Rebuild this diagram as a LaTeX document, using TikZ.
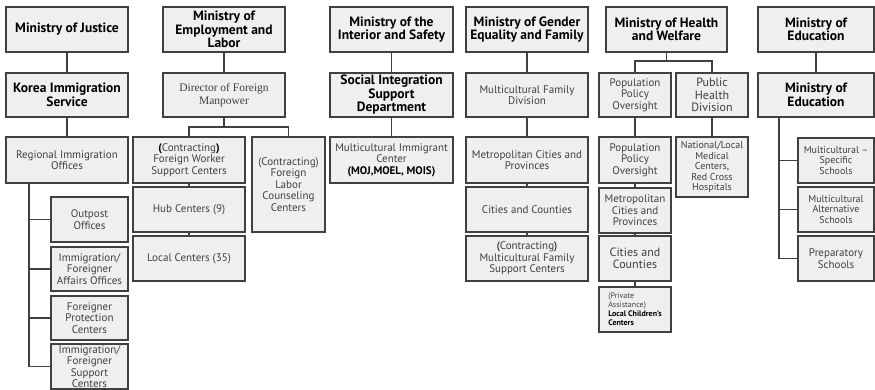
\documentclass[tikz,border=0pt]{standalone}
\usepackage{fontspec}
\setmainfont{PT Sans}
\newfontfamily\serifdir{Liberation Serif}
\definecolor{boxfill}{HTML}{EFEFEF}
\definecolor{boxline}{HTML}{404040}
\definecolor{bodytext}{HTML}{404040}
\tikzset{
  box/.style={draw=boxline, fill=boxfill, line width=1.3pt, align=center, inner sep=1pt,
    text=bodytext, font=\fontsize{11}{11.5}\selectfont},
  ttl/.style={text=black, font=\fontsize{13.5}{13.5}\selectfont\bfseries},
  fserif/.style={font=\serifdir\fontsize{11.5}{13.5}\selectfont},
  fbig/.style={font=\fontsize{12}{12.5}\selectfont},
  fsmall/.style={font=\fontsize{10}{10.5}\selectfont},
  ftiny/.style={font=\fontsize{8}{9}\selectfont, align=left, text=black},
  conn/.style={draw=boxline, line width=1.3pt},
}
\newcommand{\bx}[7][]{\node[box,#1,minimum width={#4-#2},minimum height={#5-#3}] (#7) at ({(#2+#4)/2},{(#3+#5)/2}) {#6};}
\begin{document}
\begin{tikzpicture}[x=1pt,y=-1pt]
\useasboundingbox (0,0) rectangle (875,390);
% column 1
\bx[ttl]{6}{7}{128}{52}{Ministry of Justice}{moj}
\bx[ttl]{6}{73}{128}{117}{Korea Immigration\\Service}{kis}
\bx{6}{137}{128}{183}{Regional Immigration\\Offices}{rio}
\bx{51}{197}{128}{242}{Outpost\\Offices}{oo}
\bx{51}{247}{128}{291}{Immigration/\\Foreigner\\Affairs Offices}{ifa}
\bx{51}{296}{128}{340}{Foreigner\\Protection\\Centers}{fpc}
\bx{51}{344}{128}{389}{Immigration/\\Foreigner\\Support\\Centers}{ifs}
% column 2
\bx[ttl]{163}{7}{285}{52}{Ministry of\\Employment and\\Labor}{moel}
\bx[fserif]{163}{73}{285}{117}{Director of Foreign\\Manpower}{dfm}
\bx{133}{137}{245}{183}{{\color{black}\bfseries(}Contracting{\color{black}\bfseries)}\\Foreign Worker\\Support Centers}{fwsc}
\bx{252}{137}{325}{232}{(Contracting)\\Foreign\\Labor\\Counseling\\Centers}{flcc}
\bx{133}{187}{245}{232}{Hub Centers (9)}{hub}
\bx{133}{236}{245}{281}{Local Centers (35)}{loc}
% column 3
\bx[ttl]{330}{7}{453}{52}{Ministry of the\\Interior and Safety}{mois}
\bx[ttl]{330}{73}{453}{117}{Social Integration\\Support\\Department}{sisd}
\bx{330}{137}{453}{183}{Multicultural Immigrant\\Center\\{\color{black}\bfseries(MOJ,MOEL, MOIS)}}{mic}
% column 4
\bx[ttl]{466}{7}{588}{52}{Ministry of Gender\\Equality and Family}{mogef}
\bx{466}{73}{588}{117}{Multicultural Family\\Division}{mfd}
\bx{466}{137}{588}{183}{Metropolitan Cities and\\Provinces}{mcp4}
\bx{466}{187}{588}{232}{Cities and Counties}{cc4}
\bx{466}{236}{588}{281}{{\color{black}(}Contracting{\color{black})}\\Multicultural Family\\Support Centers}{mfsc}
% column 5
\bx[ttl]{606}{7}{727}{52}{Ministry of Health\\and Welfare}{mohw}
\bx{599}{73}{671}{117}{Population\\Policy\\Oversight}{ppo1}
\bx[fbig]{676}{73}{748}{117}{Public\\Health\\Division}{phd}
\bx{599}{137}{671}{183}{Population\\Policy\\Oversight}{ppo2}
\bx[fsmall]{676}{137}{748}{197}{National/Local\\Medical\\Centers,\\Red Cross\\Hospitals}{nlmc}
\bx{599}{188}{671}{233}{Metropolitan\\Cities and\\Provinces}{mcp5}
\bx[fbig]{599}{236}{671}{281}{Cities and\\Counties}{cc5}
\bx[ftiny]{599}{287}{671}{332}{{\color{bodytext}(Private}\\{\color{bodytext}Assistance)}\\\textbf{Local Children's}\\\textbf{Centers}}{lcc}
% column 6
\bx[ttl]{758}{7}{874}{52}{Ministry of\\Education}{moe}
\bx[ttl]{758}{73}{874}{117}{Ministry of\\Education}{moe2}
\bx[fsmall]{798}{138}{874}{183}{Multicultural –\\Specific\\Schools}{mss}
\bx[fsmall]{798}{187}{874}{232}{Multicultural\\Alternative\\Schools}{mas}
\bx{798}{236}{874}{281}{Preparatory\\Schools}{ps}
% connectors
\draw[conn] (moj) -- (kis);
\draw[conn] (kis) -- (rio);
\coordinate (jt) at (29,183);
\draw[conn] (jt) |- (oo.west);
\draw[conn] (jt) |- (ifa.west);
\draw[conn] (jt) |- (fpc.west);
\draw[conn] (jt) |- (ifs.west);
\draw[conn] (moel) -- (dfm);
\coordinate (eb) at (224,127);
\draw[conn] (dfm.south) -- (eb) -| (fwsc.north);
\draw[conn] (eb) -| (flcc.north);
\draw[conn] (fwsc) -- (hub);
\draw[conn] (hub) -- (loc);
\draw[conn] (mois) -- (sisd);
\draw[conn] (sisd) -- (mic);
\draw[conn] (mogef) -- (mfd);
\draw[conn] (mfd) -- (mcp4);
\draw[conn] (mcp4) -- (cc4);
\draw[conn] (cc4) -- (mfsc);
\coordinate (hb) at (666.5,61);
\draw[conn] (mohw.south) -- (hb) -| (ppo1.north);
\draw[conn] (hb) -| (phd.north);
\draw[conn] (ppo1) -- (ppo2);
\draw[conn] (ppo2) -- (mcp5);
\draw[conn] (mcp5) -- (cc5);
\draw[conn] (cc5) -- (lcc);
\draw[conn] (phd) -- (nlmc);
\draw[conn] (moe) -- (moe2);
\coordinate (et) at (779,117);
\draw[conn] (et) |- (mss.west);
\draw[conn] (et) |- (mas.west);
\draw[conn] (et) |- (ps.west);
\end{tikzpicture}
\end{document}
